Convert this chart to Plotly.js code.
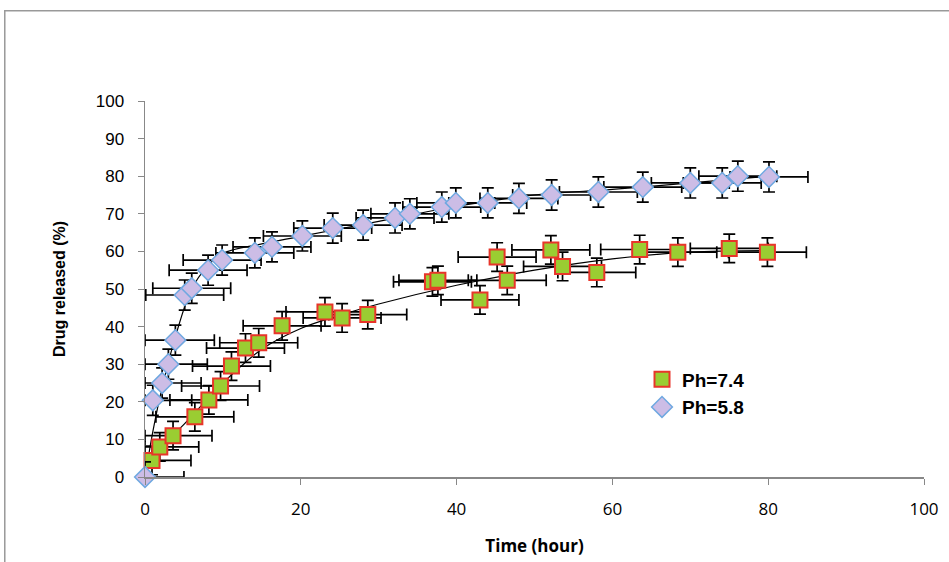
<!DOCTYPE html>
<html>
<head>
<meta charset="utf-8">
<script src="https://cdn.plot.ly/plotly-3.0.1.min.js"></script>
<style>html,body{margin:0;padding:0;background:#fff;}#chart{width:949px;height:562px;}</style>
</head>
<body>
<div id="chart"></div>
<script>
// Ph=7.4 (squares)
const timeA = [0.9,1.9,3.6,6.4,8.2,9.7,11.1,12.9,14.6,17.6,23.1,25.3,28.6,36.9,37.6,43.0,45.2,46.5,52.1,53.6,58.0,63.5,68.4,75.0,79.9];
const relA  = [4.4,8,11,16,20.5,24.2,29.5,34.3,35.7,40.2,43.9,42.3,43.2,51.9,52.3,47.1,58.5,52.3,60.4,56,54.4,60.5,59.8,60.8,59.8];
const xErrPlusA  = [5,5,5,5,5,5,5,5,5,5,5,5,5,5,5,5,5,5,5,5,5,5,5,5,5];
const xErrMinusA = [0.9,1.9,3.6,5,5,5,5,5,5,5,5,5,5,5,5,5,5,5,5,5,5,5,5,5,5];
const yErrA = [3.8,3.8,3.8,3.8,3.8,3.8,3.8,3.8,3.8,3.8,3.8,3.8,3.8,3.8,3.8,3.8,3.8,3.8,3.8,3.8,3.8,3.8,3.8,3.8,3.8];

// Ph=5.8 (diamonds)
const timeB = [0,1.0,2.2,3.0,3.9,5.1,6.0,8.1,9.9,14.1,16.3,20.2,24.1,28.0,32.1,34.0,38.1,39.9,44.0,48.0,52.2,58.2,63.9,70.0,74.1,76.1,80.1];
const relB  = [0,20.4,25,30,36.4,48.4,50.2,55,57.7,59.6,61.2,64.1,66.2,67,68.9,70,71.8,72.9,72.9,74.1,75,75.8,77.1,78.2,78.2,80,79.8];
const xErrPlusB  = [5,5,5,5,5,5,5,5,5,5,5,5,5,5,5,5,5,5,5,5,5,5,5,5,5,5,5];
const xErrMinusB = [0,1.0,2.2,3.0,3.9,5,5,5,5,5,5,5,5,5,5,5,5,5,5,5,5,5,5,5,5,5,5];
const yErrB = [4,4,4,4,4,4,4,4,4,4,4,4,4,4,4,4,4,4,4,4,4,4,4,4,4,4,4];

// fitted trend curves
const fitTimeA = [0,2,5,10,15,20,25,30,40,50,60,70,80];
const fitRelA  = [3,8,14,25,34,39.5,43,46,51,55,58,59.8,60.2];
const fitTimeB = [0,1,2,4,6,8,10,15,20,30,40,50,60,70,80];
const fitRelB  = [0,12,22,38,50,56,59.5,62,64,68,72,75,76.5,78.2,80];

const seriesNames = ['Ph=7.4','Ph=5.8'];

const errStyle = {color:'#000', thickness:1.7, width:6};

const traces = [
  {x:fitTimeA, y:fitRelA, mode:'lines', line:{color:'#000', width:1.2, shape:'spline'}, showlegend:false, hoverinfo:'skip'},
  {x:fitTimeB, y:fitRelB, mode:'lines', line:{color:'#000', width:1.2, shape:'spline'}, showlegend:false, hoverinfo:'skip'},
  {x:timeA, y:relA, mode:'markers', name:seriesNames[0], cliponaxis:false,
   marker:{symbol:'square', size:15, color:'#9acd32', line:{color:'#e8352a', width:2}},
   error_x:Object.assign({type:'data', symmetric:false, array:xErrPlusA, arrayminus:xErrMinusA}, errStyle),
   error_y:Object.assign({type:'data', array:yErrA}, errStyle)},
  {x:timeB, y:relB, mode:'markers', showlegend:false, cliponaxis:false, hoverinfo:'skip',
   marker:{symbol:'triangle-up', size:13, color:'#8fd14f', line:{width:0}}},
  {x:timeB, y:relB, mode:'markers', name:seriesNames[1], cliponaxis:false,
   marker:{symbol:'diamond', size:16, color:'#ccbde6', line:{color:'#6fa8e0', width:1.5}},
   error_x:Object.assign({type:'data', symmetric:false, array:xErrPlusB, arrayminus:xErrMinusB}, errStyle),
   error_y:Object.assign({type:'data', array:yErrB}, errStyle)}
];

const layout = {
  width:949, height:562,
  margin:{l:145, r:25, t:101, b:85},
  paper_bgcolor:'#fff', plot_bgcolor:'#fff',
  font:{family:'Liberation Sans, Arial, sans-serif', color:'#000'},
  xaxis:{range:[0,100], dtick:20, tick0:0, showgrid:false, zeroline:false,
         showline:true, linecolor:'#888', linewidth:1.5, ticks:'outside', ticklen:6, tickcolor:'#888',
         ticklabelstandoff:10,
         tickfont:{size:17, family:'Open Sans, Liberation Sans, sans-serif'},
         title:{text:'<b>Time (hour)</b>', font:{size:17, family:'Open Sans, Liberation Sans, sans-serif'}, standoff:21}},
  yaxis:{range:[0,100], dtick:10, tick0:0, showgrid:false, zeroline:false,
         showline:true, linecolor:'#888', linewidth:1.5, ticks:'outside', ticklen:6, tickcolor:'#888',
         ticklabelstandoff:10,
         tickfont:{size:17},
         title:{text:'<b>Drug released (%)</b>', font:{size:16}, standoff:26}},
  legend:{x:0.638, y:0.31, xanchor:'left', yanchor:'top', bgcolor:'rgba(0,0,0,0)',
          font:{size:19, family:'Liberation Sans, Arial, sans-serif', weight:700}, tracegroupgap:6},
  showlegend:true,
  shapes:[{type:'rect', xref:'paper', yref:'paper', x0:-0.18, x1:1.2, y0:-0.4, y1:1.24,
           line:{color:'#999', width:1.5}, fillcolor:'rgba(0,0,0,0)'}]
};

Plotly.newPlot('chart', traces, layout, {displayModeBar:false, staticPlot:true});
</script>
</body>
</html>
